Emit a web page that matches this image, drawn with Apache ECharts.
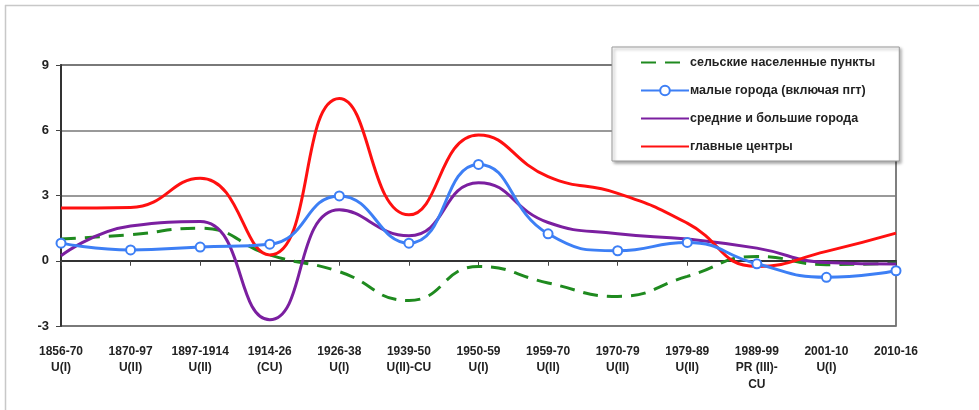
<!DOCTYPE html>
<html><head><meta charset="utf-8">
<script src="https://cdn.jsdelivr.net/npm/echarts@6/dist/echarts.min.js"></script>
<style>html,body{margin:0;padding:0;background:#fff}#c{width:979px;height:410px}</style>
</head><body><div id="c"></div>
<script>
const categories = ['1856-70\nU(I)','1870-97\nU(II)','1897-1914\nU(II)','1914-26\n(CU)','1926-38\nU(I)','1939-50\nU(II)-CU','1950-59\nU(I)','1959-70\nU(II)','1970-79\nU(II)','1979-89\nU(II)','1989-99\nPR (III)-\nCU','2001-10\nU(I)','2010-16'];
const seriesNames = ['сельские населенные пункты','малые города (включая пгт)','средние и большие города','главные центры'];
const rural  = [1.0, 1.2, 1.5, 0.27, -0.5, -1.83, -0.26, -1.02, -1.64, -0.72, 0.2, -0.18, -0.1];
const small  = [0.81, 0.5, 0.63, 0.76, 2.98, 0.81, 4.43, 1.24, 0.46, 0.84, -0.14, -0.76, -0.46];
const medium = [0.23, 1.6, 1.8, -2.71, 2.34, 1.15, 3.59, 1.76, 1.24, 1.0, 0.58, -0.08, -0.15];
const main   = [2.42, 2.45, 3.79, 0.27, 7.46, 2.11, 5.78, 3.87, 3.1, 1.73, -0.26, 0.43, 1.27];
const yTicks = [-3, 0, 3, 6, 9];

const chart = echarts.init(document.getElementById('c'), null, {renderer:'canvas'});
const hidden = {opacity:0};
chart.setOption({
  animation:false,
  backgroundColor:'#fff',
  textStyle:{fontFamily:'Liberation Sans, Arial, sans-serif'},
  graphic:[
    {type:'line', shape:{x1:5,y1:5.5,x2:979,y2:5.5}, style:{stroke:'#c8c8c8',lineWidth:1.5}},
    {type:'line', shape:{x1:5.5,y1:5,x2:5.5,y2:410}, style:{stroke:'#c8c8c8',lineWidth:1.5}}
  ],
  grid:{left:61,right:83,top:65,bottom:84,show:true,borderColor:'#555',borderWidth:1.5,backgroundColor:'transparent'},
  legend:{
    orient:'vertical', left:612, top:47,
    padding:[9,24,8,28], itemGap:15, itemWidth:48, itemHeight:12,
    backgroundColor:'#fff', borderColor:'#999', borderWidth:1,
    shadowColor:'rgba(0,0,0,0.35)', shadowBlur:3, shadowOffsetX:2, shadowOffsetY:2,
    textStyle:{fontSize:12.5,fontWeight:'bold',color:'#222',padding:[0,0,0,-4]},
    data:[
      {name:seriesNames[0], itemStyle:hidden},
      {name:seriesNames[1]},
      {name:seriesNames[2], itemStyle:hidden},
      {name:seriesNames[3], itemStyle:hidden}
    ]
  },
  xAxis:{
    type:'category', data:categories, boundaryGap:false,
    axisLine:{lineStyle:{color:'#333',width:2}},
    axisTick:{show:true,length:5,lineStyle:{color:'#444'}},
    axisLabel:{interval:0,fontSize:12,fontWeight:'bold',color:'#222',lineHeight:16.5,margin:17},
    splitLine:{show:false}
  },
  yAxis:{
    type:'value', min:-3, max:9, interval:3,
    axisLine:{show:true,lineStyle:{color:'#333',width:2}},
    axisTick:{show:true,length:5,lineStyle:{color:'#444'}},
    axisLabel:{fontSize:13,fontWeight:'bold',color:'#222',margin:12},
    splitLine:{show:true,lineStyle:{color:'#777',width:1.5}}
  },
  series:[
    {name:seriesNames[0], type:'line', data:rural, smooth:0.5, symbol:'none',
     lineStyle:{color:'#1f8a1f',width:3,type:[15,9]}, itemStyle:{color:'#1f8a1f'}, z:2},
    {name:seriesNames[1], type:'line', data:small, smooth:0.5, symbol:'circle', symbolSize:9, showSymbol:true,
     lineStyle:{color:'#3d7ff5',width:3}, itemStyle:{color:'#fff',borderColor:'#3d7ff5',borderWidth:2}, z:4},
    {name:seriesNames[2], type:'line', data:medium, smooth:0.5, symbol:'none',
     lineStyle:{color:'#7b1fa0',width:3}, itemStyle:{color:'#7b1fa0'}, z:3},
    {name:seriesNames[3], type:'line', data:main, smooth:0.5, symbol:'none',
     lineStyle:{color:'#ff1010',width:3}, itemStyle:{color:'#ff1010'}, z:3}
  ]
});
</script></body></html>
